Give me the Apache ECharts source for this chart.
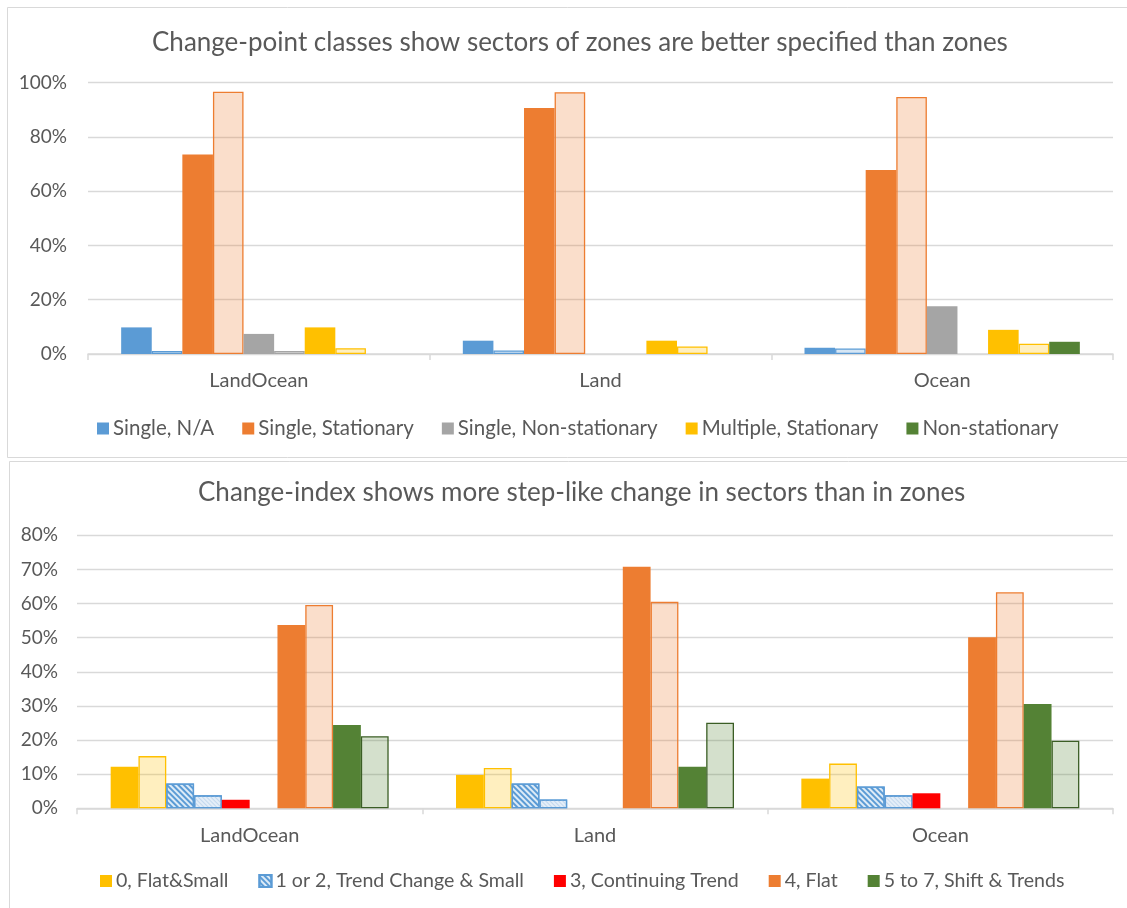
<!DOCTYPE html>
<html>
<head>
<meta charset="utf-8">
<script src="https://cdn.jsdelivr.net/npm/echarts@6/dist/echarts.min.js"></script>
<style>
  html, body { margin: 0; padding: 0; background: #fff; }
  #chart { width: 1127px; height: 908px; }
</style>
</head>
<body>
<div id="chart"></div>
<script>
// Regions on the category axis (both panels)
const categories = ['LandOcean', 'Land', 'Ocean'];

// Panel 1: change-point classes (fractions); "zones" solid, "sectors" pale
const singleNA          = [0.098, 0.049, 0.023];
const singleNASec       = [0.011, 0.013, 0.020];
const singleStat        = [0.735, 0.906, 0.678];
const singleStatSec     = [0.966, 0.964, 0.947];
const singleNonStat     = [0.074, 0.000, 0.176];
const singleNonStatSec  = [0.011, 0.000, 0.000];
const multStat          = [0.098, 0.049, 0.089];
const multStatSec       = [0.021, 0.028, 0.038];
const nonStat           = [0.000, 0.000, 0.045];
const nonStatSec        = [0.000, 0.000, 0.000];

// Panel 2: change-index classes (fractions); "zones" solid, "sectors" pale
const flatSmall         = [0.122, 0.098, 0.087];
const flatSmallSec      = [0.153, 0.118, 0.131];
const trendChange       = [0.073, 0.073, 0.064];
const trendChangeSec    = [0.038, 0.026, 0.038];
const contTrend         = [0.025, 0.000, 0.044];
const contTrendSec      = [0.000, 0.000, 0.000];
const flat              = [0.537, 0.708, 0.501];
const flatSec           = [0.596, 0.605, 0.633];
const shift             = [0.244, 0.122, 0.306];
const shiftSec          = [0.211, 0.251, 0.198];

// Value-axis ticks
const topTicks    = { min: 0, max: 1.0, step: 0.2 };
const bottomTicks = { min: 0, max: 0.8, step: 0.1 };

const topTitle    = 'Change-point classes show sectors of zones are better specified than zones';
const bottomTitle = 'Change-index shows more step-like change in sectors than in zones';

const topLegend    = ['Single, N/A', 'Single, Stationary', 'Single, Non-stationary', 'Multiple, Stationary', 'Non-stationary'];
const bottomLegend = ['0, Flat&Small', '1 or 2, Trend Change & Small', '3, Continuing Trend', '4, Flat', '5 to 7, Shift & Trends'];

const FONT = 'Lato';
const TXT = '#595959';
const GRID_LINE = '#D9D9D9';

const C = {
  blue: '#5B9BD5', orange: '#ED7D31', gray: '#A5A5A5', yellow: '#FFC000',
  green: '#548235', greenDark: '#3B5E25', red: '#FF0000'
};
function pale(hex, a) {
  const n = parseInt(hex.slice(1), 16);
  return `rgba(${(n >> 16) & 255},${(n >> 8) & 255},${n & 255},${a})`;
}
// zero means no bar at all
const vals = arr => arr.map(v => (v === 0 ? null : v));

function bar(name, data, axisIdx, itemStyle, gapCfg) {
  return Object.assign({
    type: 'bar', name, data: vals(data),
    xAxisIndex: axisIdx, yAxisIndex: axisIdx,
    itemStyle, barGap: '0%', silent: true, animation: false
  }, gapCfg);
}
const solid = c => ({ color: c });
const paleBox = (c, border) => ({ color: pale(c, 0.25), borderColor: border || c, borderWidth: 1.3 });

const topGap = { barCategoryGap: '1.5%' };
const botGap = { barCategoryGap: '3.4%' };

const hatchDark = {
  color: '#DDEBF7', borderColor: C.blue, borderWidth: 1.3,
  decal: { symbol: 'rect', symbolSize: 1, dashArrayX: [1, 0], dashArrayY: [2, 2], rotation: Math.PI / 4, color: C.blue }
};
const hatchPale = {
  color: '#E4EEF8', borderColor: C.blue, borderWidth: 1.3,
  decal: { symbol: 'rect', symbolSize: 1, dashArrayX: [1, 0], dashArrayY: [1, 2], rotation: Math.PI / 4, color: '#C3D8EE' }
};

const pctFmt = v => Math.round(v * 100) + '%';

const series = [
  // panel 1 (first slot left empty)
  bar('slot-a', [null, null, null], 0, solid(C.blue), topGap),
  bar(topLegend[0], singleNA, 0, solid(C.blue), topGap),
  bar(topLegend[0] + ' (sectors)', singleNASec, 0, paleBox(C.blue), topGap),
  bar(topLegend[1], singleStat, 0, solid(C.orange), topGap),
  bar(topLegend[1] + ' (sectors)', singleStatSec, 0, paleBox(C.orange), topGap),
  bar(topLegend[2], singleNonStat, 0, solid(C.gray), topGap),
  bar(topLegend[2] + ' (sectors)', singleNonStatSec, 0, paleBox(C.gray), topGap),
  bar(topLegend[3], multStat, 0, solid(C.yellow), topGap),
  bar(topLegend[3] + ' (sectors)', multStatSec, 0, paleBox(C.yellow), topGap),
  bar(topLegend[4], nonStat, 0, solid(C.green), topGap),
  bar(topLegend[4] + ' (sectors)', nonStatSec, 0, paleBox(C.green, C.greenDark), topGap),

  // panel 2 (first and last slot left empty)
  bar('slot-b', [null, null, null], 1, solid(C.yellow), botGap),
  bar(bottomLegend[0], flatSmall, 1, solid(C.yellow), botGap),
  bar(bottomLegend[0] + ' (sectors)', flatSmallSec, 1, paleBox(C.yellow), botGap),
  bar(bottomLegend[1], trendChange, 1, hatchDark, botGap),
  bar(bottomLegend[1] + ' (sectors)', trendChangeSec, 1, hatchPale, botGap),
  bar(bottomLegend[2], contTrend, 1, solid(C.red), botGap),
  bar(bottomLegend[2] + ' (sectors)', contTrendSec, 1, paleBox(C.red), botGap),
  bar(bottomLegend[3], flat, 1, solid(C.orange), botGap),
  bar(bottomLegend[3] + ' (sectors)', flatSec, 1, paleBox(C.orange), botGap),
  bar(bottomLegend[4], shift, 1, solid(C.green), botGap),
  bar(bottomLegend[4] + ' (sectors)', shiftSec, 1, paleBox(C.green, C.greenDark), botGap),
  bar('slot-c', [null, null, null], 1, solid(C.green), botGap)
];

function catAxis(gridIndex, margin) {
  return {
    type: 'category', gridIndex, data: categories,
    axisLine: { lineStyle: { color: GRID_LINE, width: 1.5 } },
    axisTick: { show: true, length: 6, lineStyle: { color: GRID_LINE, width: 1.5 } },
    axisLabel: { color: TXT, fontFamily: FONT, fontSize: 20, margin }
  };
}
function valAxis(gridIndex, t, margin) {
  return {
    type: 'value', gridIndex, min: t.min, max: t.max, interval: t.step,
    axisLine: { show: false }, axisTick: { show: false },
    splitLine: { lineStyle: { color: GRID_LINE, width: 1.3 } },
    axisLabel: { color: TXT, fontFamily: FONT, fontSize: 19, margin, formatter: pctFmt }
  };
}
function legend(names, top, left, gap, size) {
  return {
    data: names, top, left, icon: 'rect', itemWidth: 12, itemHeight: 12, itemGap: gap,
    selectedMode: false,
    textStyle: { color: TXT, fontFamily: FONT, fontSize: size, padding: [0, 0, 0, -1] }
  };
}

const option = {
  backgroundColor: '#fff',
  animation: false,
  graphic: [
    { type: 'rect', shape: { x: 7.5, y: 7.5, width: 1125, height: 450 }, style: { fill: 'none', stroke: GRID_LINE, lineWidth: 1 }, silent: true },
    { type: 'rect', shape: { x: 9.5, y: 461.5, width: 1125, height: 450 }, style: { fill: 'none', stroke: GRID_LINE, lineWidth: 1 }, silent: true }
  ],
  title: [
    { text: topTitle, left: 147, top: 25, textStyle: { color: TXT, fontFamily: FONT, fontSize: 26, fontWeight: 'normal' } },
    { text: bottomTitle, left: 193, top: 475, textStyle: { color: TXT, fontFamily: FONT, fontSize: 26, fontWeight: 'normal' } }
  ],
  legend: [
    legend(topLegend, 413, 92, 28, 20.5),
    legend(bottomLegend, 866, 95, 30, 19.6)
  ],
  grid: [
    { left: 88, top: 82.5, width: 1025, height: 271.5 },
    { left: 77, top: 535.3, width: 1036, height: 273 }
  ],
  xAxis: [catAxis(0, 17), catAxis(1, 17)],
  yAxis: [valAxis(0, topTicks, 21), valAxis(1, bottomTicks, 19)],
  series
};

const chart = echarts.init(document.getElementById('chart'), null, { renderer: 'canvas' });
chart.setOption(option);
</script>
</body>
</html>
